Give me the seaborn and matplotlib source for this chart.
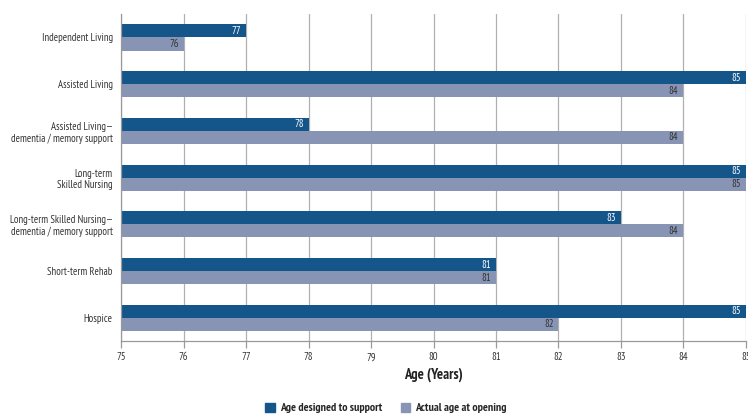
import matplotlib
matplotlib.use("Agg")
import matplotlib.pyplot as plt
import seaborn as sns
import pandas as pd
from matplotlib.patches import Patch
from matplotlib import font_manager

categories = [
    "Independent Living",
    "Assisted Living",
    "Assisted Living\u2014\ndementia / memory support",
    "Long-term\nSkilled Nursing",
    "Long-term Skilled Nursing\u2014\ndementia / memory support",
    "Short-term Rehab",
    "Hospice",
]
designed_age = [77, 85, 78, 85, 83, 81, 85]
actual_age = [76, 84, 84, 85, 84, 81, 82]
series_names = ["Age designed to support", "Actual age at opening"]
xticks = list(range(75, 86))

blue = "#15568a"
grey = "#8794b4"

df = pd.DataFrame({
    "category": categories * 2,
    "age": designed_age + actual_age,
    "series": [series_names[0]] * len(categories) + [series_names[1]] * len(categories),
})

sns.set_style("white")

# narrow faces with a bold weight, first one installed wins
installed = {f.name for f in font_manager.fontManager.ttflist}
preferred = ["PT Sans Narrow", "Fira Sans Condensed", "Asap Condensed",
             "Barlow Semi Condensed", "Archivo Narrow"]
family = next((n for n in preferred if n in installed), "Liberation Sans")
plt.rcParams["font.family"] = [family, "DejaVu Sans"]
fs = 7.7

fig = plt.figure(figsize=(7.48, 4.15), dpi=100)
ax = fig.add_axes([0.1618, 0.178, 0.8355, 0.788])

sns.barplot(
    data=df, y="category", x="age", hue="series", orient="h",
    palette=[blue, grey], saturation=1, width=0.56, gap=0, ax=ax, legend=False,
    linewidth=0, order=categories, hue_order=series_names,
)

ax.set_xlim(75, 85)
ax.set_ylim(6.5, -0.5)
ax.set_xticks(xticks)
ax.set_xticklabels([str(t) for t in xticks], fontsize=fs, color="#333333")
ax.xaxis.grid(True, color="#b0b0b0", linewidth=0.9)
ax.set_axisbelow(True)
ax.tick_params(axis="x", length=5, width=0.9, color="#9a9a9a", pad=3, bottom=True)
ax.tick_params(axis="y", length=0, pad=6, labelsize=fs, labelcolor="#333333")
for t in ax.get_yticklabels():
    t.set_horizontalalignment("right")
for side in ["top", "right"]:
    ax.spines[side].set_visible(False)
for side in ["left", "bottom"]:
    ax.spines[side].set_color("#9a9a9a")
    ax.spines[side].set_linewidth(0.9)

ax.set_xlabel("Age (Years)", fontsize=10.5, fontweight="bold", color="#222222", labelpad=4)
ax.set_ylabel("")

# value labels inside the right end of each bar
for container, color in zip(ax.containers, ["white", "#333333"]):
    for bar in container:
        w = bar.get_width()
        x_end = bar.get_x() + w
        ax.text(x_end - 0.08, bar.get_y() + bar.get_height() / 2, f"{x_end:.0f}",
                ha="right", va="center", fontsize=fs, color=color)

handles = [Patch(color=blue), Patch(color=grey)]
fig.legend(handles, series_names, loc="center", bbox_to_anchor=(0.516, 0.017),
           ncol=2, frameon=False, handlelength=0.8, handleheight=0.8,
           handletextpad=0.4, columnspacing=1.6,
           prop={"weight": "bold", "size": 8.6})

fig.savefig("out.png", dpi=100)
